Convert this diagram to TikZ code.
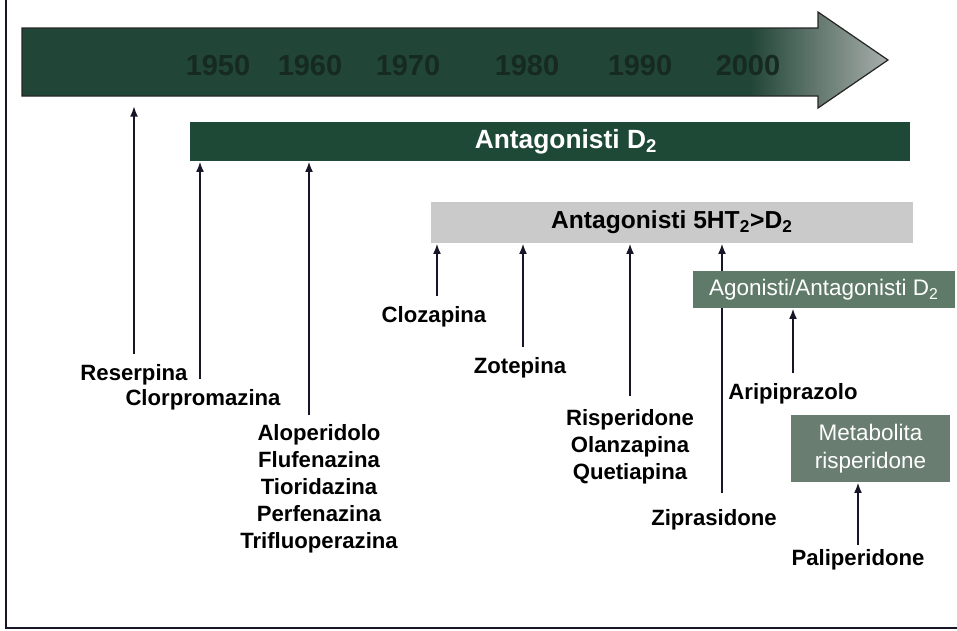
\documentclass[tikz,border=0pt]{standalone}
\usepackage{fontspec}
\setmainfont{Liberation Sans}
\usepackage{xcolor}
\usetikzlibrary{arrows.meta, positioning}

\definecolor{arrowgreen}{RGB}{33,69,55}
\definecolor{arrowgray}{RGB}{168,174,171}
\definecolor{yeartext}{RGB}{22,42,34}
\definecolor{d2green}{RGB}{31,73,55}
\definecolor{htgray}{RGB}{202,202,202}
\definecolor{agogreen}{RGB}{96,122,105}
\definecolor{metagreen}{RGB}{106,125,113}
\definecolor{linkcol}{RGB}{22,22,40}

\pgfdeclarehorizontalshading{timeshade}{100bp}{
    color(0bp)=(arrowgreen); color(67bp)=(arrowgreen);
    color(75bp)=(arrowgray); color(100bp)=(arrowgray)}

\begin{document}
\begin{tikzpicture}[
        x=0.02cm, y=-0.02cm,                 % un pixel del originale
        drug/.style={
            inner sep=0pt,
            align=center,
            font=\fontsize{12.6}{15.3}\selectfont\bfseries
        },
        bar/.style={
            rectangle,
            inner sep=0pt,
            font=\fontsize{14}{16}\selectfont\bfseries
        },
        box/.style={
            rectangle,
            inner sep=0pt,
            align=center,
            text=white,
            font=\fontsize{12.8}{15.9}\selectfont
        },
        year/.style={
            font=\fontsize{16.5}{18}\selectfont\bfseries,
            text=yeartext
        },
        link/.style={
            draw=linkcol,
            line width=1.1pt,
            -{Latex[length=6pt,width=4.5pt]},
            shorten <=0.2cm
        }
    ]
    \useasboundingbox (0,0) rectangle (957,630);

    % --- CORNICE ---
    \draw[line width=1.2pt, linkcol] (6,0) -- (6,628) -- (957,628);

    % --- FRECCIA DEL TEMPO ---
    \shade[shading=timeshade, draw=black!85, line width=0.7pt]
        (22,28) -- (818,28) -- (818,12) -- (888,60) -- (818,108)
        -- (818,96) -- (22,96) -- cycle;
    \coordinate (tlbottom) at (0,106);
    \foreach \yr/\xx in {1950/218, 1960/310, 1970/408, 1980/527, 1990/640, 2000/748}
        \node[year] (y\yr) at (\xx,66) {\yr};

    % --- BARRE ---
    \node[bar, fill=d2green, text=white, font=\fontsize{15}{17}\selectfont\bfseries,
          minimum width=14.4cm, minimum height=0.78cm]
        (d2bar) at (550,141.5) {\hspace*{0.64cm}Antagonisti D\textsubscript{2}};
    \node[bar, fill=htgray, minimum width=9.64cm, minimum height=0.82cm]
        (htbar) at (672,222.5) {Antagonisti 5HT\textsubscript{2}>D\textsubscript{2}};

    % --- FARMACI ---
    \node[drug] (reserpina) at (134,375) {Reserpina};
    \node[drug] (clorpro) at (203,400) {Clorpromazina};
    \node[drug] (alo) at (319,489)
        {Aloperidolo\\Flufenazina\\Tioridazina\\Perfenazina\\Trifluoperazina};
    \node[drug] (cloza) at (434,317) {Clozapina};
    \node[drug] (zote) at (520,368) {Zotepina};
    \node[drug] (risp) at (630,447) {Risperidone\\Olanzapina\\Quetiapina};
    \node[drug] (zipra) at (714,520) {Ziprasidone};
    \node[drug] (arip) at (793,394) {Aripiprazolo};
    \node[drug] (pali) at (858,560) {Paliperidone};

    % --- FRECCE ---
    \draw[link] (reserpina) -- (reserpina |- tlbottom);
    \draw[link] ([xshift=-0.06cm]clorpro.north) -- ([xshift=-0.06cm]clorpro.north |- d2bar.south);
    \draw[link] ([xshift=-0.2cm]alo.north) -- ([xshift=-0.2cm]alo.north |- d2bar.south);
    \draw[link] ([xshift=0.06cm]cloza.north) -- ([xshift=0.06cm]cloza.north |- htbar.south);
    \draw[link] ([xshift=0.06cm]zote.north) -- ([xshift=0.06cm]zote.north |- htbar.south);
    \draw[link, shorten <=0.26cm] (risp) -- (risp |- htbar.south);
    \draw[link, shorten <=0.32cm] ([xshift=0.16cm]zipra.north) -- ([xshift=0.16cm]zipra.north |- htbar.south);

    % --- BOX A DESTRA ---
    \node[box, fill=agogreen, minimum width=5.24cm, minimum height=0.74cm]
        (agobox) at (824,289.5) {Agonisti/Antagonisti D\textsubscript{2}};
    \node[box, fill=metagreen, minimum width=3.18cm, minimum height=1.34cm]
        (metabox) at (870.5,448.5) {Metabolita\\risperidone};

    \draw[link] (arip) -- (arip |- agobox.south);
    \draw[link, shorten <=0.08cm] (pali) -- (pali |- metabox.south);
\end{tikzpicture}
\end{document}
